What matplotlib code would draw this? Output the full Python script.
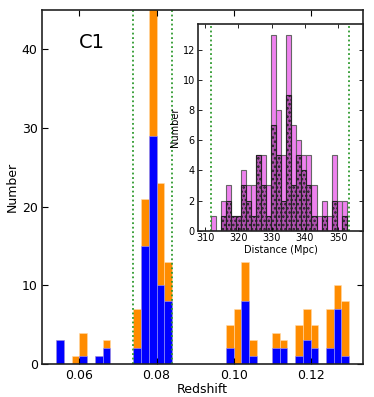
import numpy as np
import matplotlib
matplotlib.use("Agg")
import matplotlib.pyplot as plt

# redshift histogram, bin width 0.002 from z = 0.054
z_start = 0.054
z_width = 0.002
all_counts = [3, 0, 1, 4, 0, 1, 3, 0, 0, 0,
              7, 21, 47, 23, 13, 0, 0, 0, 0, 0,
              0, 0, 5, 7, 13, 3, 0, 0, 4, 3,
              0, 5, 7, 5, 0, 7, 10, 8]
sub_counts = [3, 0, 0, 1, 0, 1, 2, 0, 0, 0,
              2, 15, 29, 10, 8, 0, 0, 0, 0, 0,
              0, 0, 2, 0, 8, 1, 0, 0, 2, 2,
              0, 1, 3, 2, 0, 2, 7, 1]
z_cut = [0.074, 0.084]

# distance histogram (inset)
d_min, d_max = 311.8, 352.5
dist_all = [1, 0, 2, 3, 1, 1, 4, 3, 3, 5, 5, 3, 13, 8,
            5, 13, 7, 6, 5, 5, 3, 1, 2, 1, 5, 2, 2]
dist_sub = [0, 0, 1, 2, 1, 1, 3, 2, 1, 5, 3, 1, 7, 5,
            2, 9, 3, 5, 4, 3, 1, 0, 1, 0, 2, 0, 1]
d_cut = [311.9, 353.3]

plt.rcParams['xtick.direction'] = 'in'
plt.rcParams['ytick.direction'] = 'in'
plt.rcParams['xtick.top'] = True
plt.rcParams['ytick.right'] = True
plt.rcParams['font.family'] = 'DejaVu Sans'
plt.rcParams['hatch.linewidth'] = 1.2

fig = plt.figure(figsize=(3.74, 3.97), dpi=100)
ax = fig.add_axes([0.1136, 0.0831, 0.857, 0.8917])

edges = z_start + z_width * np.arange(len(all_counts) + 1)
ax.bar(edges[:-1], all_counts, width=z_width, align='edge',
       color='darkorange', edgecolor='#ffd9a8', linewidth=0.4)
ax.bar(edges[:-1], sub_counts, width=z_width, align='edge',
       color='#0000ff', edgecolor='#a0a0ff', linewidth=0.4)
for zc in z_cut:
    ax.axvline(zc, color='#2e9a2e', ls=(0, (1, 1.5)), lw=1.3)

ax.set_xlim(0.0504, 0.1336)
ax.set_ylim(0, 45)
ax.set_xticks([0.06, 0.08, 0.10, 0.12])
ax.set_xticklabels(['0.06', '0.08', '0.10', '0.12'])
ax.set_yticks([0, 10, 20, 30, 40])
ax.tick_params(labelsize=9, length=4, width=0.8)
ax.set_xlabel('Redshift', fontsize=9, labelpad=1)
ax.set_ylabel('Number', fontsize=9, labelpad=2)
ax.text(0.0633, 40.9, 'C1', fontsize=14, ha='center', va='center')
for s in ax.spines.values():
    s.set_linewidth(1.2)
    s.set_color('#222222')

# inset
axi = fig.add_axes([0.5286, 0.4189, 0.4428, 0.5207])
dedges = np.linspace(d_min, d_max, len(dist_all) + 1)
dw = dedges[1] - dedges[0]
axi.bar(dedges[:-1], dist_all, width=dw, align='edge',
        color='violet', edgecolor='#666666', linewidth=0.8)
axi.bar(dedges[:-1], dist_sub, width=dw, align='edge',
        color='#b050b0', edgecolor='#222222', linewidth=0.8, hatch='....')
for dc in d_cut:
    axi.axvline(dc, color='#2e9a2e', ls=(0, (1, 1.5)), lw=1.3)
axi.set_xlim(307.8, 357.5)
axi.set_ylim(0, 13.7)
axi.set_xticks([310, 320, 330, 340, 350])
axi.set_yticks([0, 2, 4, 6, 8, 10, 12])
axi.tick_params(labelsize=7, length=3, width=0.6, pad=2)
axi.set_xlabel('Distance (Mpc)', fontsize=7, labelpad=1)
axi.set_ylabel('Number', fontsize=7, labelpad=2)
for s in axi.spines.values():
    s.set_linewidth(1.2)
    s.set_color('#222222')

fig.savefig('out.png', dpi=100)
